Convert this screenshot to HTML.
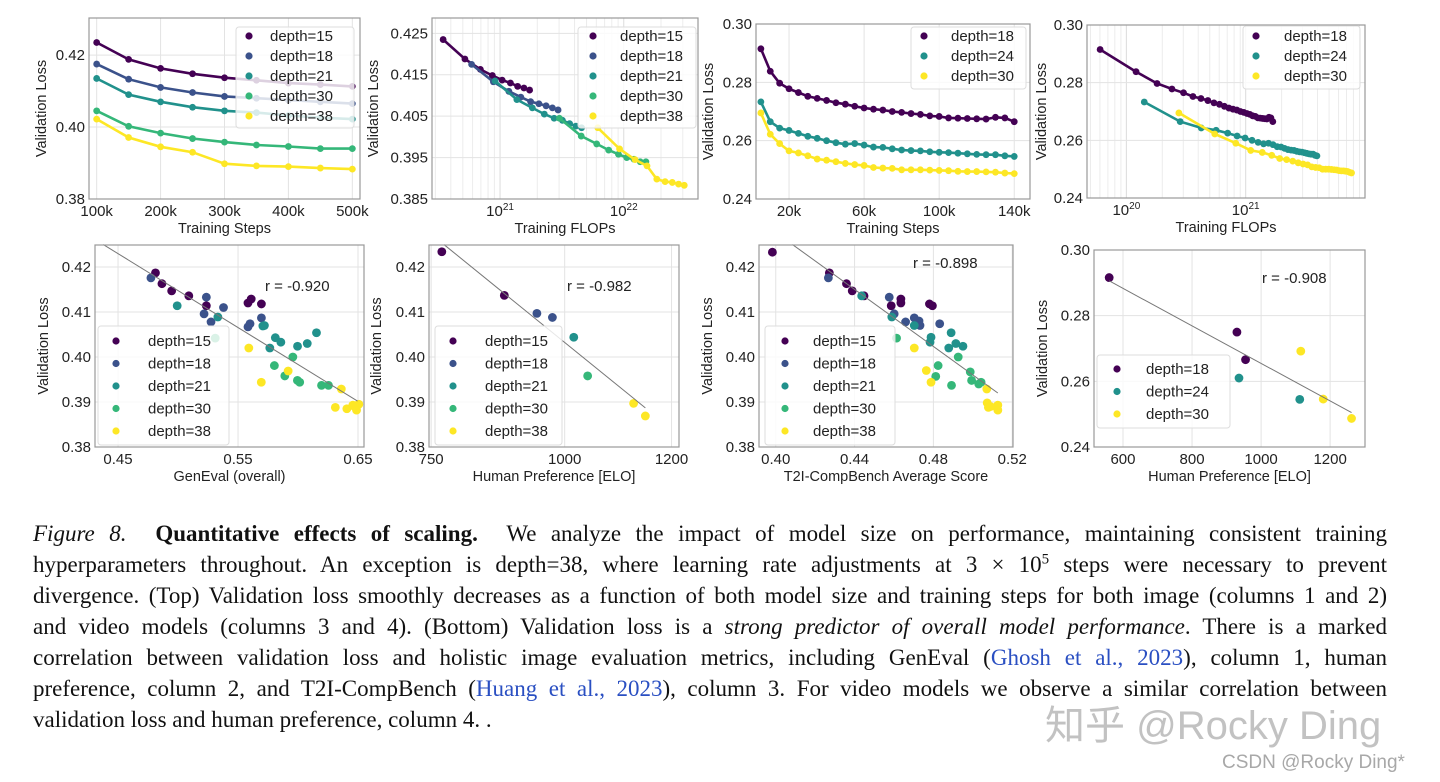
<!DOCTYPE html>
<html><head><meta charset="utf-8">
<style>
html,body{margin:0;padding:0;background:#fff;}
body{width:1440px;height:782px;position:relative;overflow:hidden;}
svg text{font-family:"Liberation Sans",sans-serif;}
.cap{position:absolute;left:33px;width:1354px;font-family:"Liberation Serif",serif;font-size:23px;line-height:31px;text-align:justify;text-align-last:justify;color:#111;white-space:nowrap;}
.cap.last{text-align-last:left;}
.ref{color:#2a4fc2;}
.wm{position:absolute;font-family:"Liberation Sans","Noto Sans CJK SC",sans-serif;color:rgba(120,120,120,0.45);}
</style></head>
<body>
<svg id="fig" width="1440" height="510" style="position:absolute;left:0;top:0" xmlns="http://www.w3.org/2000/svg"></svg>

<div class="cap" style="top:518px"><i>Figure 8.</i>&nbsp; <b>Quantitative effects of scaling.</b>&nbsp; We analyze the impact of model size on performance, maintaining consistent training</div>
<div class="cap" style="top:549px">hyperparameters throughout. An exception is depth=38, where learning rate adjustments at 3 × 10<sup style="font-size:15px;line-height:0">5</sup> steps were necessary to prevent</div>
<div class="cap" style="top:580px">divergence. (Top) Validation loss smoothly decreases as a function of both model size and training steps for both image (columns 1 and 2)</div>
<div class="cap" style="top:611px">and video models (columns 3 and 4). (Bottom) Validation loss is a <i>strong predictor of overall model performance</i>. There is a marked</div>
<div class="cap" style="top:642px">correlation between validation loss and holistic image evaluation metrics, including GenEval (<span class="ref">Ghosh et al., 2023</span>), column 1, human</div>
<div class="cap" style="top:673px">preference, column 2, and T2I-CompBench (<span class="ref">Huang et al., 2023</span>), column 3. For video models we observe a similar correlation between</div>
<div class="cap last" style="top:704px">validation loss and human preference, column 4. .</div>
<div class="wm" style="left:1045px;top:693px;font-size:40px">知乎 @Rocky Ding</div>
<div class="wm" style="left:1222px;top:752px;font-size:19px;color:rgba(110,110,110,0.6)">CSDN @Rocky Ding*</div>

<script>
// ---------- DATA ----------
const imgDepths = ['depth=15','depth=18','depth=21','depth=30','depth=38'];
const vidDepths = ['depth=18','depth=24','depth=30'];
const trainSteps = [100,150,200,250,300,350,400,450,500]; // k steps
const lossD15 = [.4235,.4188,.4163,.4148,.4137,.4130,.4122,.4118,.4113];
const lossD18 = [.4175,.4133,.4110,.4096,.4085,.4080,.4075,.4070,.4065];
const lossD21 = [.4135,.4090,.4070,.4055,.4045,.4040,.4032,.4026,.4022];
const lossD30 = [.4045,.4002,.3983,.3968,.3958,.3950,.3946,.3940,.3940];
const lossD38 = [.4022,.3971,.3945,.3930,.3898,.3892,.3890,.3886,.3883];
const logFlopsAt100k = [20.54,20.77,20.96,21.48,21.79];

const vidSteps = [5,10,15,20,25,30,35,40,45,50,55,60,65,70,75,80,85,90,95,100,105,110,115,120,125,130,135,140];
const vLossD18 = [.2915,.2838,.2797,.2778,.2765,.2752,.2745,.2738,.2730,.2725,.2718,.2712,.2708,.2705,.2700,.2697,.2693,.2690,.2685,.2683,.2678,.2677,.2676,.2675,.2674,.2680,.2678,.2665];
const vLossD24 = [.2733,.2665,.2643,.2635,.2625,.2615,.2608,.2600,.2593,.2588,.2590,.2585,.2578,.2577,.2572,.2568,.2566,.2565,.2562,.2560,.2559,.2557,.2555,.2553,.2552,.2552,.2548,.2546];
const vLossD30 = [.2695,.2622,.2590,.2565,.2558,.2548,.2537,.2533,.2528,.2522,.2518,.2515,.2508,.2506,.2505,.2500,.2500,.2500,.2499,.2498,.2497,.2495,.2494,.2494,.2493,.2492,.2489,.2487];
const vLogFlopsAt5k = [19.78,20.15,20.44];

const genX15=[.4812,.4866,.4947,.509,.5236,.5583,.561,.5695], genY15=[.4187,.4163,.4147,.4136,.4114,.4120,.4129,.4118];
const genX18=[.4774,.5236,.5217,.5379,.5275,.5583,.560,.5695], genY18=[.4176,.4133,.4096,.4110,.4078,.4067,.4074,.4087];
const genX21=[.4993,.5332,.5707,.5720,.5811,.5857,.5765,.5996,.6077,.6154], genY21=[.4114,.4089,.4069,.4070,.4043,.4033,.4020,.4024,.4030,.4054];
const genX30=[.531,.5803,.5957,.589,.5995,.6014,.6196,.6254], genY30=[.4042,.3981,.4000,.3958,.3948,.3944,.3937,.3937];
const genX38=[.5590,.5694,.5918,.6361,.6311,.6407,.6457,.6488,.6507,.6470], genY38=[.4020,.3944,.3969,.3929,.3888,.3885,.3893,.3882,.3895,.3890];
const genFitX=[.4377,.6496], genFitY=[.4250,.3902];

const eloX15=[770,887], eloY15=[.4234,.4137];
const eloX18=[948,977], eloY18=[.4097,.4088];
const eloX21=[1017], eloY21=[.4044];
const eloX30=[1043], eloY30=[.3958];
const eloX38=[1129,1151], eloY38=[.3897,.3869];
const eloFitX=[774,1151], eloFitY=[.4250,.3887];

const t2iX15=[.3983,.4272,.4359,.4388,.4448,.4586,.4635,.4635,.478,.4795], t2iY15=[.4233,.4187,.4163,.4147,.4136,.4114,.4129,.4120,.4118,.4114];
const t2iX18=[.4267,.4576,.4601,.4659,.4703,.4727,.4732,.4832], t2iY18=[.4176,.4133,.4096,.4078,.4087,.4080,.4070,.4074];
const t2iX21=[.4436,.4589,.4703,.4788,.4783,.4890,.4878,.4914,.4950], t2iY21=[.4136,.4089,.4070,.4044,.4033,.4054,.4020,.4030,.4024];
const t2iX30=[.4613,.4824,.4812,.4926,.4892,.4987,.4994,.503,.5042], t2iY30=[.4042,.3981,.3957,.4000,.3937,.3967,.3948,.3940,.3944];
const t2iX38=[.4703,.4764,.4788,.5071,.5073,.5079,.5127,.5127,.5090], t2iY38=[.4020,.3970,.3944,.3929,.3898,.3888,.3893,.3882,.3890];
const t2iFitX=[.4085,.5127], t2iFitY=[.4250,.3920];

const vEloX18=[560,930,955], vEloY18=[.2916,.2750,.2666];
const vEloX24=[936,1112], vEloY24=[.2610,.2545];
const vEloX30=[1115,1180,1262], vEloY30=[.2692,.2546,.2487];
const vEloFitX=[560,1262], vEloFitY=[.2906,.2505];

const rLabels=['r = -0.920','r = -0.982','r = -0.898','r = -0.908'];

// ---------- DRAW ----------
const NS='http://www.w3.org/2000/svg';
const svg=document.getElementById('fig');
const IC=['#440154','#3b528b','#21918c','#35b779','#fde725'];
const VC=['#440154','#21918c','#fde725'];
function mk(tag,attrs,parent){const e=document.createElementNS(NS,tag);for(const k in attrs)e.setAttribute(k,attrs[k]);(parent||svg).appendChild(e);return e;}

function panel(p){
  const g=mk('g',{});
  
  
  const sx=v=>{const a=p.xlog?Math.log10(v):v;return p.x0+(a-p.xd[0])/(p.xd[1]-p.xd[0])*(p.x1-p.x0);};
  const sy=v=>p.y1-(v-p.yd[0])/(p.yd[1]-p.yd[0])*(p.y1-p.y0);
  if(p.xlog){for(let d=Math.floor(p.xd[0]);d<p.xd[1];d++){for(let m=1;m<10;m++){const a=d+Math.log10(m);if(a<=p.xd[0]||a>=p.xd[1])continue;const X=p.x0+(a-p.xd[0])/(p.xd[1]-p.xd[0])*(p.x1-p.x0);const l=mk('line',{x1:X,x2:X,y1:p.y0,y2:p.y1,stroke:m==1?'#dcdcdc':'#ececec','stroke-width':1},g);}}}
  else p.xt.forEach(v=>{const X=sx(v);const l=mk('line',{x1:X,x2:X,y1:p.y0,y2:p.y1,stroke:'#e3e3e3','stroke-width':1},g);});
  p.yt.forEach(v=>{const Y=sy(v);const l=mk('line',{x1:p.x0,x2:p.x1,y1:Y,y2:Y,stroke:'#e3e3e3','stroke-width':1},g);});
  p.series.forEach((s,i)=>{
    const sg=mk('g',{},g);
    
    
    if(p.line){const d=s.xs.map((x,j)=>(j?'L':'M')+sx(x).toFixed(1)+','+sy(s.ys[j]).toFixed(1)).join('');const pl=mk('path',{d:d,fill:'none',stroke:s.color,'stroke-width':2.6},sg);}
    s.xs.forEach((x,j)=>{const c=mk('circle',{cx:sx(x),cy:sy(s.ys[j]),r:p.line?3.4:4.4,fill:s.color},sg);});
  });
  if(p.fit){const l=mk('line',{x1:sx(p.fit[0][0]),y1:sy(p.fit[1][0]),x2:sx(p.fit[0][1]),y2:sy(p.fit[1][1]),stroke:'#777','stroke-width':1},g);}
  const fr=mk('rect',{x:p.x0,y:p.y0,width:p.x1-p.x0,height:p.y1-p.y0,fill:'none',stroke:'#999','stroke-width':1.2},g);
  
  p.yt.forEach((v,i)=>{const t=mk('text',{x:p.x0-4,y:sy(v)+5,'text-anchor':'end','font-size':15,fill:'#222'},g);t.textContent=p.ytl[i];});
  p.xt.forEach((v,i)=>{const X=sx(v);const t=mk('text',{x:X,y:p.y1+17,'text-anchor':'middle','font-size':15,fill:'#222'},g);
    if(p.xlog){t.textContent='10';const ts=mk('tspan',{dy:-6,'font-size':10},t);ts.textContent=p.xtl[i];}else t.textContent=p.xtl[i];});
  const xt=mk('text',{x:(p.x0+p.x1)/2,y:p.y1+34,'text-anchor':'middle','font-size':14.5,fill:'#222'},g);xt.textContent=p.xtitle;
  const yx=p.ytx, yy=(p.y0+p.y1)/2;
  const yt=mk('text',{x:yx,y:yy,'text-anchor':'middle','font-size':14.5,fill:'#222',transform:`rotate(-90 ${yx} ${yy})`},g);yt.textContent='Validation Loss';
  const L=p.leg;const lg=mk('g',{},g);
  mk('rect',{x:L.x,y:L.y,width:L.w,height:L.h,rx:3,fill:'rgba(255,255,255,0.82)',stroke:'#ddd'},lg);
  p.series.forEach((s,i)=>{const Y=L.y+L.p+i*L.dy;const e=mk('g',{},lg);
    mk('circle',{cx:L.x+L.mx,cy:Y,r:3.6,fill:s.color},e);const t=mk('text',{x:L.x+L.tx,y:Y+5,'font-size':15,fill:'#222'},e);t.textContent=s.label;});
  if(p.r){const t=mk('text',{x:p.r[0],y:p.r[1],'font-size':15,fill:'#222'},g);t.textContent=p.r[2];}
}

const imgLoss=[lossD15,lossD18,lossD21,lossD30,lossD38];
const vidLoss=[vLossD18,vLossD24,vLossD30];
const topLegI={x:236,y:27,w:118,h:101,p:9,dy:20,mx:13,tx:34};
const topLegV={x:911,y:27,w:115,h:62,p:9,dy:20,mx:13,tx:40};

panel({name:'panel-train-steps-image',x0:89,x1:360,y0:18,y1:199,xd:[88,512],yd:[.38,.4303],xt:[100,200,300,400,500],xtl:['100k','200k','300k','400k','500k'],yt:[.38,.40,.42],ytl:['0.38','0.40','0.42'],xtitle:'Training Steps',ytx:46,line:true,
  series:imgLoss.map((ys,i)=>({label:imgDepths[i],color:IC[i],xs:trainSteps,ys:ys})),leg:topLegI});
panel({name:'panel-train-flops-image',x0:432,x1:698,y0:18,y1:199,xlog:true,xd:[20.45,22.6],yd:[.385,.4287],xt:[1e21,1e22],xtl:['21','22'],yt:[.385,.395,.405,.415,.425],ytl:['0.385','0.395','0.405','0.415','0.425'],xtitle:'Training FLOPs',ytx:378,line:true,
  series:imgLoss.map((ys,i)=>({label:imgDepths[i],color:IC[i],xs:trainSteps.map(s=>Math.pow(10,logFlopsAt100k[i])*s/100),ys:ys})),leg:{x:578,y:27,w:118,h:101,p:9,dy:20,mx:15,tx:42}});
panel({name:'panel-train-steps-video',x0:756,x1:1030,y0:24,y1:199,xd:[2.4,148.4],yd:[.24,.30],xt:[20,60,100,140],xtl:['20k','60k','100k','140k'],yt:[.24,.26,.28,.30],ytl:['0.24','0.26','0.28','0.30'],xtitle:'Training Steps',ytx:713,line:true,
  series:vidLoss.map((ys,i)=>({label:vidDepths[i],color:VC[i],xs:vidSteps,ys:ys})),leg:topLegV});
panel({name:'panel-train-flops-video',x0:1087,x1:1365,y0:25,y1:198,xlog:true,xd:[19.67,22.0],yd:[.24,.30],xt:[1e20,1e21],xtl:['20','21'],yt:[.24,.26,.28,.30],ytl:['0.24','0.26','0.28','0.30'],xtitle:'Training FLOPs',ytx:1046,line:true,
  series:vidLoss.map((ys,i)=>({label:vidDepths[i],color:VC[i],xs:vidSteps.map(s=>Math.pow(10,vLogFlopsAt5k[i])*s/5),ys:ys})),leg:{x:1243,y:26,w:117,h:63,p:10,dy:20,mx:13,tx:41}});

const botLeg={w:131,h:119,p:15,dy:22.5,mx:18,tx:50};
panel({name:'panel-geneval',x0:95,x1:364,y0:245,y1:447,xd:[.4308,.655],yd:[.38,.4249],xt:[.45,.55,.65],xtl:['0.45','0.55','0.65'],yt:[.38,.39,.40,.41,.42],ytl:['0.38','0.39','0.40','0.41','0.42'],xtitle:'GenEval (overall)',ytx:48,
  series:[[genX15,genY15],[genX18,genY18],[genX21,genY21],[genX30,genY30],[genX38,genY38]].map((d,i)=>({label:imgDepths[i],color:IC[i],xs:d[0],ys:d[1]})),
  fit:[genFitX,genFitY],leg:Object.assign({x:98,y:326},botLeg),r:[265,291,rLabels[0]]});
panel({name:'panel-human-pref-image',x0:429,x1:679,y0:245,y1:447,xd:[746,1214],yd:[.38,.4249],xt:[750,1000,1200],xtl:['750','1000','1200'],yt:[.38,.39,.40,.41,.42],ytl:['0.38','0.39','0.40','0.41','0.42'],xtitle:'Human Preference [ELO]',ytx:381,
  series:[[eloX15,eloY15],[eloX18,eloY18],[eloX21,eloY21],[eloX30,eloY30],[eloX38,eloY38]].map((d,i)=>({label:imgDepths[i],color:IC[i],xs:d[0],ys:d[1]})),
  fit:[eloFitX,eloFitY],leg:Object.assign({x:435,y:326},botLeg,{w:127}),r:[567,291,rLabels[1]]});
panel({name:'panel-t2i-compbench',x0:759,x1:1013,y0:245,y1:447,xd:[.3915,.5204],yd:[.38,.4249],xt:[.40,.44,.48,.52],xtl:['0.40','0.44','0.48','0.52'],yt:[.38,.39,.40,.41,.42],ytl:['0.38','0.39','0.40','0.41','0.42'],xtitle:'T2I-CompBench Average Score',ytx:712,
  series:[[t2iX15,t2iY15],[t2iX18,t2iY18],[t2iX21,t2iY21],[t2iX30,t2iY30],[t2iX38,t2iY38]].map((d,i)=>({label:imgDepths[i],color:IC[i],xs:d[0],ys:d[1]})),
  fit:[t2iFitX,t2iFitY],leg:Object.assign({x:765,y:326},botLeg,{w:130,mx:20,tx:48}),r:[913,268,rLabels[2]]});
panel({name:'panel-human-pref-video',x0:1094,x1:1365,y0:250,y1:447,xd:[516,1301],yd:[.24,.30],xt:[600,800,1000,1200],xtl:['600','800','1000','1200'],yt:[.24,.26,.28,.30],ytl:['0.24','0.26','0.28','0.30'],xtitle:'Human Preference [ELO]',ytx:1047,
  series:[[vEloX18,vEloY18],[vEloX24,vEloY24],[vEloX30,vEloY30]].map((d,i)=>({label:vidDepths[i],color:VC[i],xs:d[0],ys:d[1]})),
  fit:[vEloFitX,vEloFitY],leg:{x:1097,y:355,w:133,h:73,p:14,dy:22.5,mx:20,tx:49},r:[1262,283,rLabels[3]]});
</script>
</body></html>
